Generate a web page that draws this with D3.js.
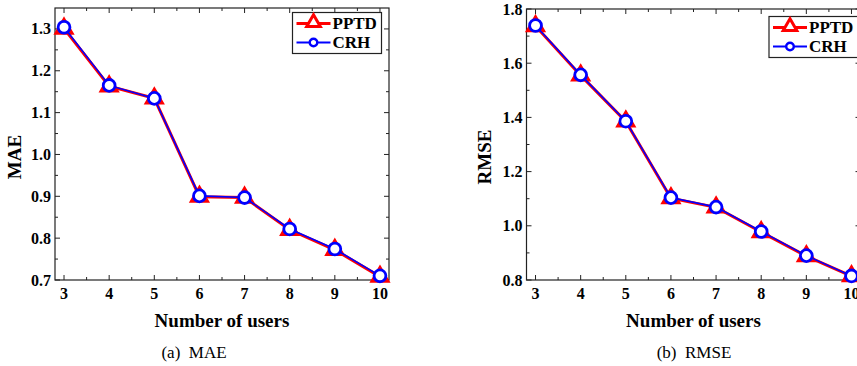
<!DOCTYPE html>
<html>
<head>
<meta charset="utf-8">
<script src="https://cdn.jsdelivr.net/npm/d3@7"></script>
<style>
  body { margin: 0; background: #fff; }
  svg { display: block; }
  text { font-family: "Liberation Serif", "Times New Roman", serif; }
</style>
</head>
<body>
<svg width="857" height="366"></svg>
<script>
var users = [3, 4, 5, 6, 7, 8, 9, 10];
var maePPTD = [1.301, 1.163, 1.134, 0.899, 0.897, 0.820, 0.772, 0.708];
var maeCRH = [1.304, 1.165, 1.134, 0.901, 0.897, 0.822, 0.774, 0.710];
var rmsePPTD = [1.737, 1.555, 1.385, 1.102, 1.068, 0.977, 0.888, 0.814];
var rmseCRH = [1.739, 1.557, 1.386, 1.104, 1.069, 0.979, 0.890, 0.815];
var maeTicks = [0.7, 0.8, 0.9, 1.0, 1.1, 1.2, 1.3];
var rmseTicks = [0.8, 1.0, 1.2, 1.4, 1.6, 1.8];

var svg = d3.select("svg");
svg.append("rect").attr("width", 857).attr("height", 366).attr("fill", "#fff");

function panel(opt) {
  var x = d3.scaleLinear().domain([2.8, 10.2]).range([opt.left, opt.left + 334]);
  var y = d3.scaleLinear().domain(opt.ydomain).range([280, opt.top]);
  var g = svg.append("g");

  // frame
  g.append("rect")
    .attr("x", x.range()[0]).attr("y", y.range()[1])
    .attr("width", x.range()[1] - x.range()[0])
    .attr("height", y.range()[0] - y.range()[1])
    .attr("fill", "none").attr("stroke", "#222").attr("stroke-width", 1.2);

  var xMinor = users.slice(0, -1).map(function (d) { return d + 0.5; });
  var yMinor = opt.yticks.slice(0, -1).map(function (d) { return d + opt.ystep / 2; });

  // ticks inward, mirrored top and right
  function xt(vals, len) {
    vals.forEach(function (v) {
      g.append("line").attr("x1", x(v)).attr("x2", x(v))
        .attr("y1", y.range()[0]).attr("y2", y.range()[0] - len)
        .attr("stroke", "#222");
      g.append("line").attr("x1", x(v)).attr("x2", x(v))
        .attr("y1", y.range()[1]).attr("y2", y.range()[1] + len)
        .attr("stroke", "#222");
    });
  }
  function yt(vals, len) {
    vals.forEach(function (v) {
      g.append("line").attr("y1", y(v)).attr("y2", y(v))
        .attr("x1", x.range()[0]).attr("x2", x.range()[0] + len)
        .attr("stroke", "#222");
      g.append("line").attr("y1", y(v)).attr("y2", y(v))
        .attr("x1", x.range()[1]).attr("x2", x.range()[1] - len)
        .attr("stroke", "#222");
    });
  }
  xt(users, 5); xt(xMinor, 3);
  yt(opt.yticks, 5); yt(yMinor, 3);

  g.selectAll(".xl").data(users).enter().append("text")
    .attr("x", function (d) { return x(d); }).attr("y", 299)
    .attr("text-anchor", "middle").attr("font-size", 16).attr("font-weight", "bold")
    .text(function (d) { return d; });
  g.selectAll(".yl").data(opt.yticks).enter().append("text")
    .attr("x", x.range()[0] - 4).attr("y", function (d) { return y(d) + 5.5; })
    .attr("text-anchor", "end").attr("font-size", 16).attr("font-weight", "bold")
    .text(function (d) { return d3.format(".1f")(d); });

  g.append("text").attr("x", (x.range()[0] + x.range()[1]) / 2).attr("y", 327)
    .attr("text-anchor", "middle").attr("font-size", 19).attr("font-weight", "bold")
    .text("Number of users");
  g.append("text")
    .attr("transform", "translate(" + opt.ytitleX + ",157) rotate(-90)")
    .attr("text-anchor", "middle").attr("font-size", 19).attr("font-weight", "bold")
    .text(opt.ytitle);
  g.append("text").attr("x", opt.capX).attr("y", 358)
    .attr("text-anchor", "middle").attr("font-size", 17)
    .attr("xml:space", "preserve").text(opt.caption);

  var line = d3.line()
    .x(function (d, i) { return x(users[i]); })
    .y(function (d) { return y(d); });

  var tri = d3.symbol().type(d3.symbolTriangle).size(150);
  var cir = d3.symbol().type(d3.symbolCircle).size(110);

  g.append("path").datum(opt.pptd).attr("d", line)
    .attr("fill", "none").attr("stroke", "#ff0000").attr("stroke-width", 3);
  g.selectAll(".tri").data(opt.pptd).enter().append("path")
    .attr("d", tri)
    .attr("transform", function (d, i) { return "translate(" + x(users[i]) + "," + y(d) + ")"; })
    .attr("fill", "#ff0000").attr("stroke", "#ff0000").attr("stroke-width", 1.5);
  g.append("path").datum(opt.crh).attr("d", line)
    .attr("fill", "none").attr("stroke", "#0000ff").attr("stroke-width", 1.6);
  g.selectAll(".cir").data(opt.crh).enter().append("path")
    .attr("d", cir)
    .attr("transform", function (d, i) { return "translate(" + x(users[i]) + "," + y(d) + ")"; })
    .attr("fill", "#fff").attr("stroke", "#0000ff").attr("stroke-width", 2.8);

  // legend
  var lg = g.append("g").attr("transform", "translate(" + opt.legX + "," + opt.legY + ")");
  lg.append("rect").attr("width", 89).attr("height", 41)
    .attr("fill", "#fff").attr("stroke", "#222").attr("stroke-width", 1.2);
  lg.append("line").attr("x1", 4).attr("x2", 38).attr("y1", 11).attr("y2", 11)
    .attr("stroke", "#ff0000").attr("stroke-width", 3);
  lg.append("path").attr("d", d3.symbol().type(d3.symbolTriangle).size(80))
    .attr("transform", "translate(21,10)")
    .attr("fill", "#fff").attr("stroke", "#ff0000").attr("stroke-width", 3);
  lg.append("text").attr("x", 40).attr("y", 16.5).attr("font-size", 17)
    .attr("font-weight", "bold").text("PPTD");
  lg.append("line").attr("x1", 4).attr("x2", 38).attr("y1", 30).attr("y2", 30)
    .attr("stroke", "#0000ff").attr("stroke-width", 2);
  lg.append("path").attr("d", d3.symbol().type(d3.symbolCircle).size(45))
    .attr("transform", "translate(21,30)")
    .attr("fill", "#fff").attr("stroke", "#0000ff").attr("stroke-width", 2.4);
  lg.append("text").attr("x", 40).attr("y", 35.5).attr("font-size", 17)
    .attr("font-weight", "bold").text("CRH");
}

panel({
  left: 55, top: 8, ydomain: [0.7, 1.35], yticks: maeTicks, ystep: 0.1,
  pptd: maePPTD, crh: maeCRH, ytitle: "MAE", ytitleX: 21,
  caption: "(a)  MAE", capX: 194, legX: 292.5, legY: 12.5
});
panel({
  left: 526.5, top: 9, ydomain: [0.8, 1.8], yticks: rmseTicks, ystep: 0.2,
  pptd: rmsePPTD, crh: rmseCRH, ytitle: "RMSE", ytitleX: 491,
  caption: "(b)  RMSE", capX: 694, legX: 769, legY: 16.5
});
</script>
</body>
</html>
